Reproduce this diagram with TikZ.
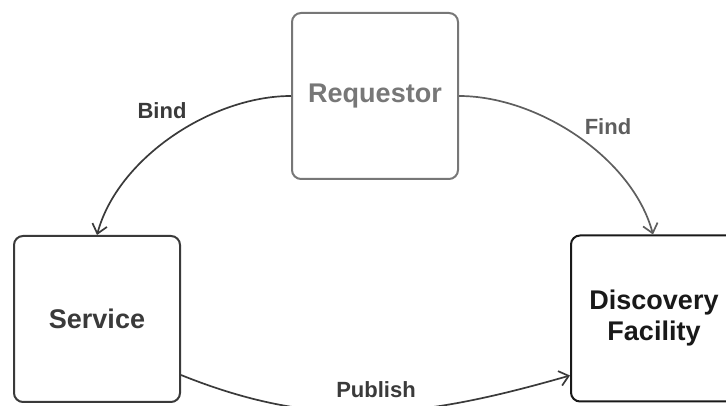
\documentclass[tikz,border=0pt]{standalone}
\usepackage{fontspec}
\setmainfont{Liberation Sans}
\usepackage{tikz}
\usetikzlibrary{positioning,arrows.meta}
\definecolor{reqgray}{HTML}{777777}
\definecolor{dimgray}{HTML}{3A3A3A}
\definecolor{linegray}{HTML}{5E5E5E}

\begin{document}
\begin{tikzpicture}[x=1pt,y=1pt, >={Straight Barb[length=9pt,width=15pt]}, every node/.style={font=\bfseries\fontsize{27}{31}\selectfont}]
\tikzstyle{box}=[rounded corners=9pt,line width=2pt,minimum width=166pt,minimum height=166pt,align=center,fill=white]
\tikzstyle{lbl}=[font=\bfseries\fontsize{22}{26}\selectfont]
\useasboundingbox (0,0) rectangle (726,406);
\node[box,draw=reqgray,text=reqgray] (req) at (375,310) {Requestor};
\node[box,draw=dimgray,text=dimgray] (serv) at (97,87) {Service};
\node[box,draw=black!90,text=black!90] (disc) at (654,87.5) {Discovery\\Facility};
\draw[->,line width=1.7pt,draw=dimgray] (req.west) to[out=180,in=75,looseness=0.85] (serv.north);
\draw[->,line width=1.7pt,draw=linegray] (req.east) to[out=0,in=105,looseness=0.85] ([xshift=-1pt]disc.north);
\draw[->,line width=1.7pt,draw=dimgray] ([yshift=-56pt]serv.east) to[out=-22,in=196] ([yshift=-57pt]disc.west);
\node[lbl,text=dimgray] (bind) at (162,295) {Bind};
\node[lbl,text=linegray] (find) at (608,279) {Find};
\node[lbl,text=dimgray,fill=white,inner sep=2pt] (pub) at (376,16) {Publish};
\end{tikzpicture}
\end{document}
